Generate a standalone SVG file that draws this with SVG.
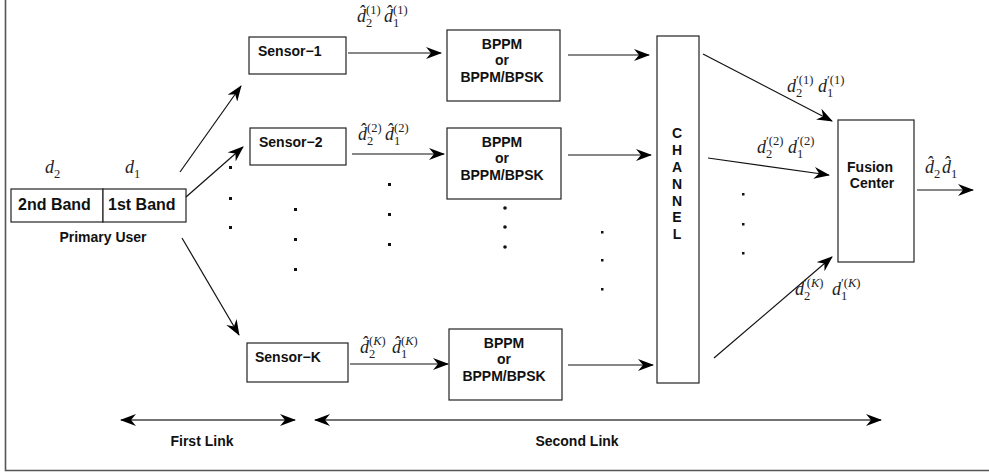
<svg xmlns="http://www.w3.org/2000/svg" width="989" height="475" viewBox="0 0 989 475">
<style>
.box{fill:#fff;stroke:#222;stroke-width:1.2}
.t{font-family:"Liberation Sans",Arial,sans-serif;font-weight:bold;font-size:14px;fill:#111}
.b{font-size:16px}
.c{text-anchor:middle}
.m{font-family:"Liberation Serif","Times New Roman",serif;font-style:italic;font-size:18px;fill:#222}
.s{font-family:"Liberation Serif","Times New Roman",serif;font-size:12.5px;fill:#222}
.si{font-style:italic}
.ln{stroke:#111;stroke-width:1.2;fill:none}
.dl{stroke:#444;stroke-width:1.6;fill:none}
.dot{fill:#111}
</style>
<defs>
<marker id="ah" viewBox="0 0 16 12" refX="15" refY="6" markerWidth="16" markerHeight="12" markerUnits="userSpaceOnUse" orient="auto-start-reverse">
<path d="M0,0 L16,6 L0,12 L5,6 z" fill="#000"/>
</marker>
</defs>
<rect width="989" height="475" fill="#fff"/>
<path d="M5.5,0 V470.5 H989" fill="none" stroke="#555" stroke-width="1.6"/>

<g id="primary-user">
<rect class="box" x="11" y="189" width="92" height="33"/>
<rect class="box" x="103" y="189" width="83" height="33"/>
<text class="t b" x="18" y="210">2nd Band</text>
<text class="t b" x="108" y="210">1st Band</text>
<text class="t c" x="103" y="242">Primary User</text>
<text class="m" x="45" y="173">d</text><text class="s" x="54" y="178">2</text>
<text class="m" x="125" y="173">d</text><text class="s" x="134" y="178">1</text>
</g>

<g id="sensor-1"><rect class="box" x="249" y="37" width="97" height="37"/><text class="t" x="258" y="56">Sensor−1</text></g>
<g id="sensor-2"><rect class="box" x="250" y="128" width="96" height="37"/><text class="t" x="259" y="147">Sensor−2</text></g>
<g id="sensor-k"><rect class="box" x="247" y="343" width="101" height="39"/><text class="t" x="255" y="362">Sensor−K</text></g>

<g id="mod-1"><rect class="box" x="447" y="30" width="113" height="71"/>
<text class="t c" x="502" y="49">BPPM</text><text class="t c" x="502" y="65">or</text><text class="t c" x="502" y="82">BPPM/BPSK</text></g>
<g id="mod-2"><rect class="box" x="447" y="128" width="114" height="71"/>
<text class="t c" x="502" y="147">BPPM</text><text class="t c" x="502" y="163">or</text><text class="t c" x="502" y="180">BPPM/BPSK</text></g>
<g id="mod-k"><rect class="box" x="449" y="329" width="113" height="71"/>
<text class="t c" x="504" y="348">BPPM</text><text class="t c" x="504" y="364">or</text><text class="t c" x="504" y="381">BPPM/BPSK</text></g>

<g id="channel"><rect class="box" x="657" y="36" width="42" height="347"/>
<text class="t c" x="677" y="138">C</text><text class="t c" x="677" y="155">H</text><text class="t c" x="677" y="172">A</text><text class="t c" x="677" y="189">N</text><text class="t c" x="677" y="206">N</text><text class="t c" x="677" y="222">E</text><text class="t c" x="677" y="239">L</text></g>

<g id="fusion-center"><rect class="box" x="838" y="120" width="76" height="142"/>
<text class="t c" x="870" y="172">Fusion</text><text class="t c" x="872" y="188">Center</text></g>

<g id="connectors">
<line class="ln" x1="180" y1="172" x2="241" y2="86" marker-end="url(#ah)"/>
<line class="ln" x1="186" y1="197" x2="243" y2="147" marker-end="url(#ah)"/>
<line class="ln" x1="182" y1="238" x2="239" y2="335" marker-end="url(#ah)"/>
<line class="ln" x1="348" y1="53" x2="441" y2="53" marker-end="url(#ah)"/>
<line class="ln" x1="352" y1="154" x2="444" y2="154" marker-end="url(#ah)"/>
<line class="ln" x1="350" y1="364" x2="448" y2="364" marker-end="url(#ah)"/>
<line class="ln" x1="568" y1="55" x2="649" y2="55" marker-end="url(#ah)"/>
<line class="ln" x1="568" y1="155" x2="651" y2="155" marker-end="url(#ah)"/>
<line class="ln" x1="568" y1="365" x2="653" y2="365" marker-end="url(#ah)"/>
<line class="ln" x1="703" y1="54" x2="832" y2="121" marker-end="url(#ah)"/>
<line class="ln" x1="708" y1="158" x2="829" y2="175" marker-end="url(#ah)"/>
<line class="ln" x1="714" y1="358" x2="832" y2="257" marker-end="url(#ah)"/>
<line class="ln" x1="917" y1="190" x2="973" y2="190" marker-end="url(#ah)"/>
<line class="dl" x1="121" y1="420" x2="295" y2="420" marker-start="url(#ah)" marker-end="url(#ah)"/>
<line class="dl" x1="315" y1="420" x2="881" y2="420" marker-start="url(#ah)" marker-end="url(#ah)"/>
</g>

<g id="link-labels">
<text class="t c" x="202" y="446">First Link</text>
<text class="t c" x="577" y="446">Second Link</text>
</g>

<g id="math-labels">
<text class="m" x="357" y="22">d̂</text><text class="s" x="366" y="27">2</text><text class="s" x="366" y="14">(1)</text>
<text class="m" x="384" y="22">d̂</text><text class="s" x="393" y="27">1</text><text class="s" x="393" y="14">(1)</text>

<text class="m" x="358" y="140">d̂</text><text class="s" x="367" y="145">2</text><text class="s" x="367" y="132">(2)</text>
<text class="m" x="385" y="140">d̂</text><text class="s" x="394" y="145">1</text><text class="s" x="394" y="132">(2)</text>

<text class="m" x="360" y="353">d̂</text><text class="s" x="369" y="358">2</text><text class="s" x="369" y="345">(<tspan class="si">K</tspan>)</text>
<text class="m" x="392" y="353">d̂</text><text class="s" x="401" y="358">1</text><text class="s" x="401" y="345">(<tspan class="si">K</tspan>)</text>

<text class="m" x="787" y="92">d</text><text class="s" x="796" y="97">2</text><text class="s" x="796" y="84">′(1)</text>
<text class="m" x="818" y="92">d</text><text class="s" x="827" y="97">1</text><text class="s" x="827" y="84">′(1)</text>

<text class="m" x="757" y="153">d</text><text class="s" x="766" y="158">2</text><text class="s" x="766" y="145">′(2)</text>
<text class="m" x="788" y="153">d</text><text class="s" x="797" y="158">1</text><text class="s" x="797" y="145">′(2)</text>

<text class="m" x="795" y="295">d</text><text class="s" x="804" y="300">2</text><text class="s" x="804" y="287">′(<tspan class="si">K</tspan>)</text>
<text class="m" x="832" y="295">d</text><text class="s" x="841" y="300">1</text><text class="s" x="841" y="287">′(<tspan class="si">K</tspan>)</text>

<text class="m" x="925" y="173">d̂</text><text class="s" x="934" y="178">2</text>
<text class="m" x="942" y="173">d̂</text><text class="s" x="951" y="178">1</text>
</g>

<g id="dots">
<rect class="dot" x="229" y="166" width="3" height="3"/><rect class="dot" x="229" y="197" width="3" height="3"/><rect class="dot" x="229" y="226" width="3" height="3"/>
<rect class="dot" x="294" y="208" width="3" height="3"/><rect class="dot" x="294" y="238" width="3" height="3"/><rect class="dot" x="294" y="268" width="3" height="3"/>
<rect class="dot" x="388" y="183" width="3" height="3"/><rect class="dot" x="388" y="213" width="3" height="3"/><rect class="dot" x="388" y="243" width="3" height="3"/>
<circle class="dot" cx="505" cy="208" r="1.8"/><circle class="dot" cx="505" cy="227" r="1.8"/><circle class="dot" cx="505" cy="247" r="1.8"/>
<rect class="dot" x="601" y="231" width="2.5" height="2.5"/><rect class="dot" x="601" y="259" width="2.5" height="2.5"/><rect class="dot" x="601" y="288" width="2.5" height="2.5"/>
<rect class="dot" x="742" y="193" width="2.5" height="2.5"/><rect class="dot" x="742" y="223" width="2.5" height="2.5"/><rect class="dot" x="742" y="252" width="2.5" height="2.5"/>
</g>
</svg>
